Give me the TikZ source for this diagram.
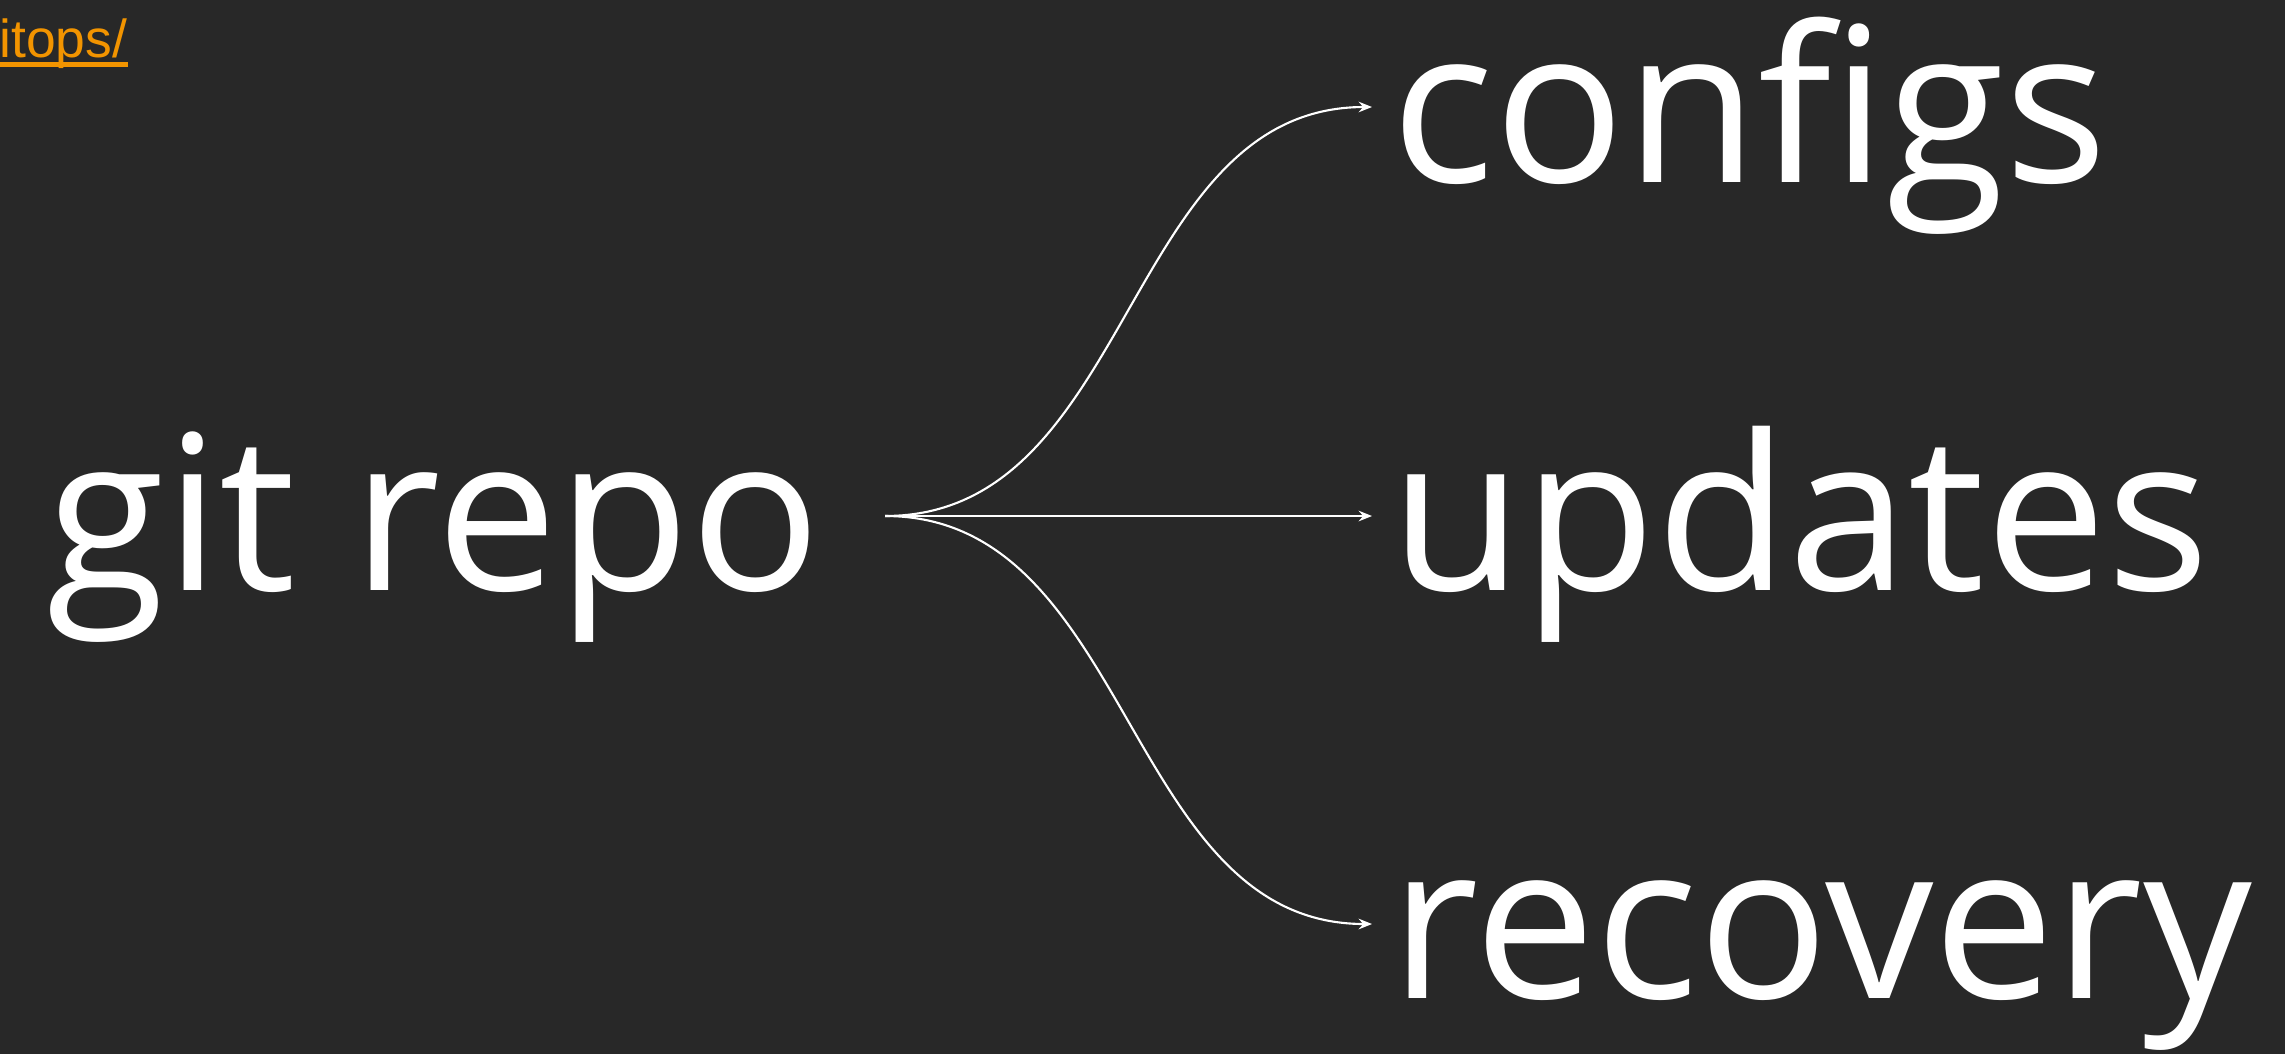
\documentclass[tikz,border=0pt]{standalone}
\usepackage{fontspec}
\setmainfont{Open Sans}
\newfontfamily\linkfont{Liberation Sans}
\usetikzlibrary{arrows.meta}

\definecolor{slate}{RGB}{40,40,40}
\definecolor{linkorange}{RGB}{242,148,0}

\begin{document}
\begin{tikzpicture}[x=0.01cm,y=-0.01cm,
    every node/.style={inner sep=0pt,anchor=base west,text=white},
    word/.style={font=\fontsize{61.5}{62}\selectfont},
    branch/.style={draw=white,line width=0.6pt,
      -{Stealth[length=3.8pt,width=3pt,inset=1.3pt]}}]
\fill[slate] (0,0) rectangle (2285,1054);
\useasboundingbox (0,0) rectangle (2285,1054);

%% Link in the corner
\node[font=\linkfont\fontsize{15.2}{15}\selectfont,text=linkorange,
  anchor=base east] (link) at (128,57) {itops/};
\draw[linkorange, line width=0.05cm] (0,64.5) -- (128,64.5);

%% Words
\node[word] (repo) at (46,590) {git repo};
\node[word] (configs) at (1391,182) {configs};
\node[word] (updates) at (1390,590) {updates};
\node[word] (recovery) at (1390,998) {recovery};

%% Branches
\coordinate (fork) at (885,516);
\coordinate (cfgEnd) at (1372,107);
\coordinate (updEnd) at (1372,516);
\coordinate (recEnd) at (1372,924);
\draw[branch] (fork) to[out=0,in=180] (cfgEnd);
\draw[branch] (fork) -- (updEnd);
\draw[branch] (fork) to[out=0,in=180] (recEnd);

\end{tikzpicture}
\end{document}
